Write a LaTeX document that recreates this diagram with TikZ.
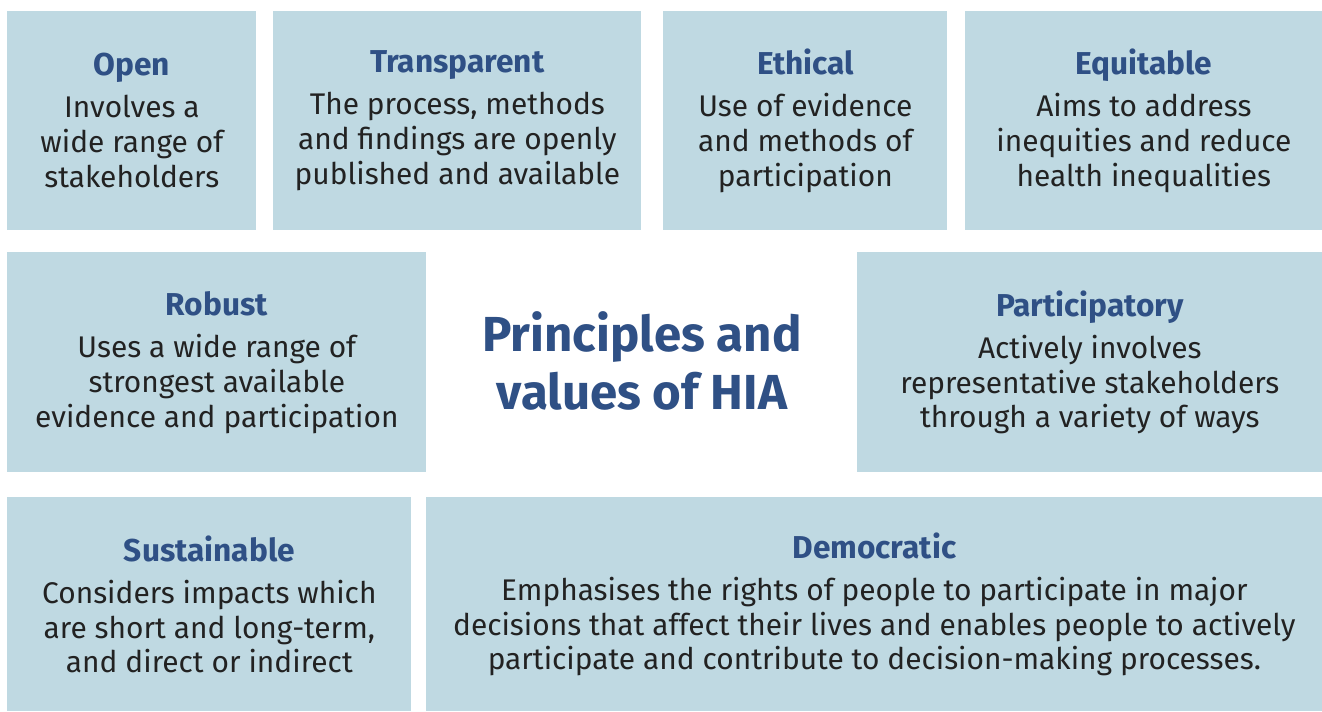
\documentclass[tikz,border=0pt]{standalone}
\usepackage{fontspec}
\setmainfont{Fira Sans}
\definecolor{boxfill}{HTML}{BFD9E2}
\definecolor{headblue}{HTML}{2F5085}
\definecolor{bodytext}{HTML}{222222}
\newcommand{\head}[1]{{\fontsize{18}{19.9}\selectfont\bfseries\color{headblue}#1}\\[4pt]}
\begin{document}
\begin{tikzpicture}[
    box/.style={rectangle, fill=boxfill, anchor=north west, align=center, text=bodytext,
      font=\fontsize{17}{19.9}\selectfont, inner sep=0pt},
    maintitle/.style={align=center, text=headblue, font=\fontsize{28}{33}\selectfont\bfseries}]
    \useasboundingbox[fill=white] (0,0) rectangle (26.44,-14.22);

    % top row
    \node [box, minimum width=4.98cm, minimum height=4.38cm] (open) at (0.14,-0.22)
      {\head{Open}Involves a\\wide range of\\stakeholders};
    \node [box, minimum width=7.36cm, minimum height=4.38cm] (transparent) at (5.46,-0.22)
      {\head{Transparent}The process, methods\\and findings are openly\\published and available};
    \node [box, minimum width=5.68cm, minimum height=4.38cm] (ethical) at (13.26,-0.22)
      {\head{Ethical}Use of evidence\\and methods of\\participation};
    \node [box, minimum width=7.14cm, minimum height=4.38cm] (equitable) at (19.30,-0.22)
      {\head{Equitable}Aims to address\\inequities and reduce\\health inequalities};

    % middle row
    \node [box, minimum width=8.38cm, minimum height=4.40cm] (robust) at (0.14,-5.04)
      {\head{Robust}Uses a wide range of\\strongest available\\evidence and participation};
    \node [box, minimum width=9.30cm, minimum height=4.40cm] (participatory) at (17.14,-5.04)
      {\head{Participatory}Actively involves\\representative stakeholders\\through a variety of ways};
    \node [maintitle] (hia) at (12.84,-7.22) {Principles and\\values of HIA};

    % bottom row
    \node [box, minimum width=8.08cm, minimum height=4.28cm] (sustainable) at (0.14,-9.94)
      {\head{Sustainable}Considers impacts which\\are short and long-term,\\and direct or indirect};
    \node [box, minimum width=17.92cm, minimum height=4.28cm] (democratic) at (8.52,-9.94)
      {\head{Democratic}Emphasises the rights of people to participate in major\\decisions that affect their lives and enables people to actively\\participate and contribute to decision-making processes.};
\end{tikzpicture}
\end{document}
